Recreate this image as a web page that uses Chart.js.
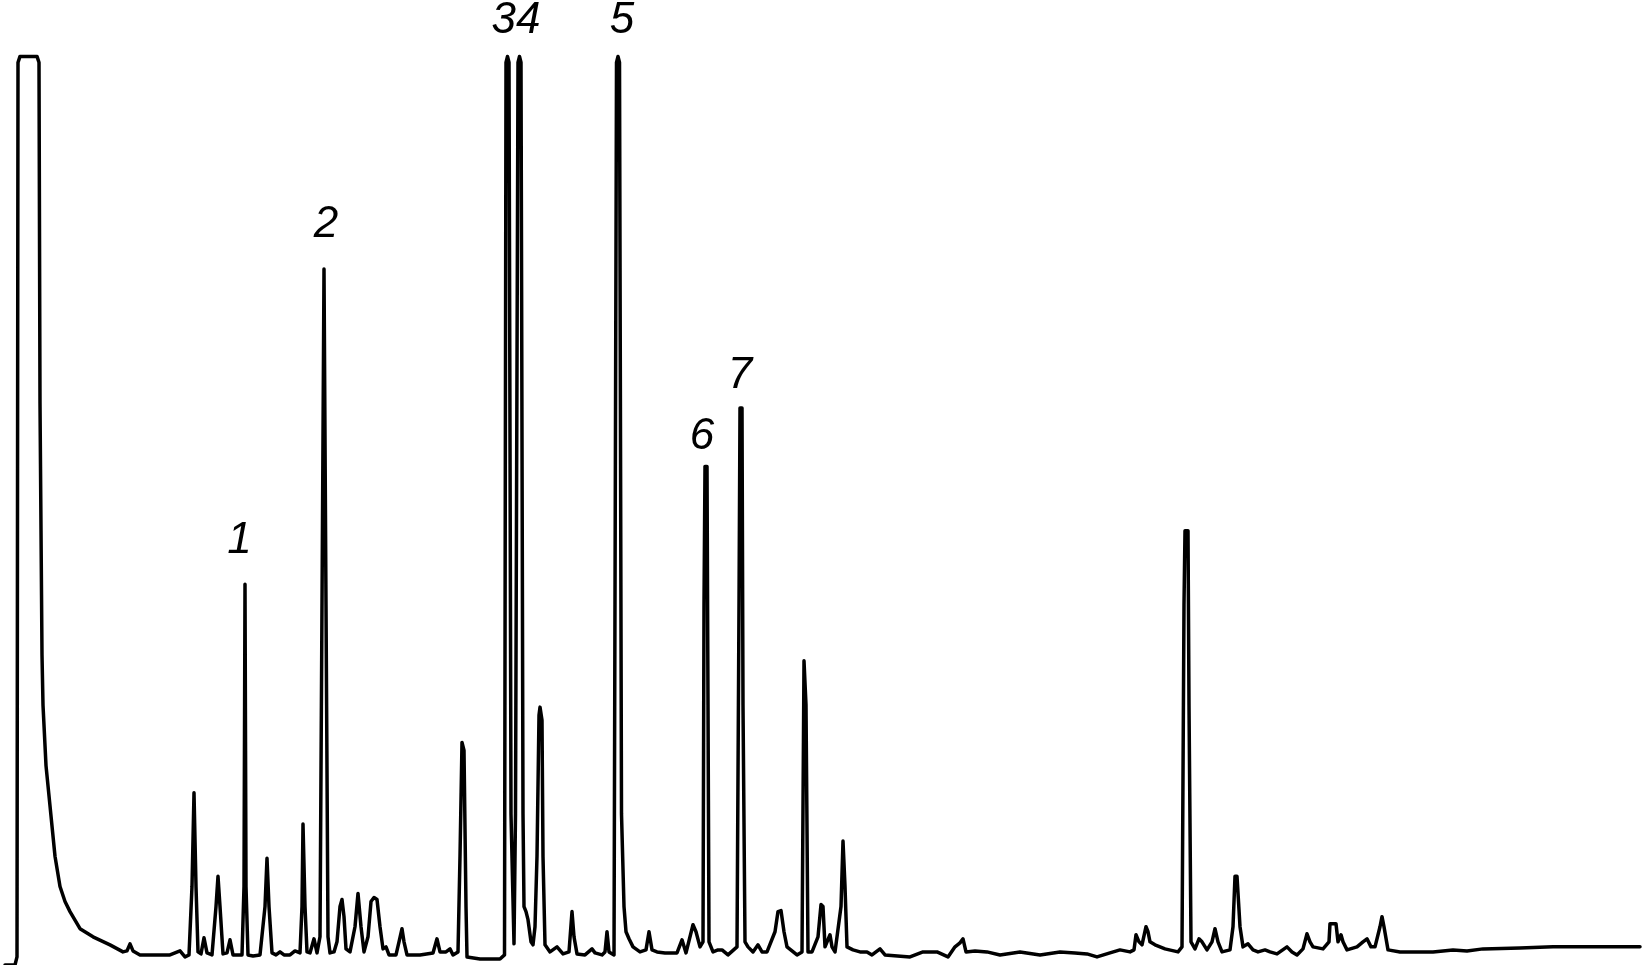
<!DOCTYPE html>
<html>
<head>
<meta charset="utf-8">
<script src="https://cdn.jsdelivr.net/npm/chart.js@4/dist/chart.umd.min.js"></script>
<style>
html,body{margin:0;padding:0;background:#fff;}
canvas{display:block;}
</style>
</head>
<body>
<canvas id="c" width="1646" height="965"></canvas>
<script>
// Retention time (arbitrary units)
const rt = [0.5,1.5,1.7,1.8,2.0,3.7,3.9,4.0,4.2,4.3,4.6,5.0,5.5,6.0,6.5,7.0,8.0,9.3,11.0,12.3,12.7,13.0,13.3,14.0,17.0,17.5,18.0,18.5,18.9,19.2,19.4,19.6,19.8,20.1,20.4,20.7,21.2,21.6,21.8,22.0,22.3,22.7,23.0,23.3,24.2,24.4,24.5,24.6,24.8,25.3,26.0,26.5,26.7,26.9,27.2,27.6,28.0,28.4,29.0,29.5,30.0,30.2,30.3,30.5,30.7,31.0,31.4,31.7,32.0,32.2,32.4,32.6,32.8,33.0,33.4,33.7,34.0,34.2,34.4,34.6,35.0,35.5,35.8,36.1,36.4,36.8,37.1,37.4,37.7,38.0,38.3,38.6,38.9,39.6,39.9,40.2,40.4,40.7,42.0,43.3,43.7,44.0,44.6,45.0,45.3,45.8,46.0,46.2,46.4,46.6,46.7,48.0,50.0,50.45,50.6,50.75,50.9,51.1,51.4,51.55,51.8,51.95,52.1,52.3,52.4,52.6,52.8,53.1,53.3,53.5,53.7,53.9,54.0,54.2,54.3,54.5,55.0,55.7,56.3,56.9,57.2,57.4,57.7,58.5,59.2,59.5,60.2,60.5,60.7,60.9,61.4,61.65,61.8,61.95,62.15,62.4,62.6,62.9,63.3,64.0,64.6,64.9,65.2,65.7,66.5,67.7,68.2,68.6,69.0,69.3,69.6,70.0,70.3,70.4,70.5,70.7,70.8,70.9,71.3,71.8,72.2,72.8,73.7,73.9,74.0,74.2,74.3,74.5,74.8,75.3,75.8,76.2,76.7,77.5,77.8,78.1,78.4,78.7,79.7,80.2,80.4,80.6,80.8,81.2,81.8,82.1,82.3,82.5,83.0,83.2,83.5,84.1,84.3,84.5,84.7,85.3,86.0,86.7,87.2,88.0,88.5,91.0,92.3,93.7,94.8,95.5,96.0,96.3,96.6,97.5,98.7,100.0,102.0,104.0,106.0,107.5,108.7,109.7,111.0,112.0,113.0,113.4,113.6,113.9,114.2,114.6,114.8,115.0,115.5,116.5,117.8,118.2,118.4,118.5,118.8,118.9,119.1,119.5,119.9,120.2,120.7,121.2,121.5,121.8,122.2,123.0,123.3,123.5,123.7,124.0,124.3,124.8,125.3,125.8,126.5,127.0,127.7,128.7,129.2,129.7,130.3,130.7,131.0,131.3,132.3,132.9,133.0,133.6,133.8,134.1,134.3,134.7,135.7,136.3,136.7,137.1,137.5,138.0,138.2,138.4,138.8,140.0,143.3,145.3,146.7,148.3,152.0,155.3,164.0];
// Detector signal (arbitrary units)
const signal = [0,0,8,896,902,902,896,558,308,258,198,158,108,78,63,53,36,28,20,13,14,21,14,10,10,12,14,8,10,78,171,78,13,11,27,12,10,58,88,58,11,12,25,10,10,78,378,78,10,9,10,58,106,58,12,10,13,10,10,14,12,58,140,58,13,12,26,12,28,358,691,358,28,12,13,23,58,65,48,16,13,38,71,38,13,28,63,67,65,38,16,18,10,10,23,36,23,10,10,12,26,13,13,16,10,13,108,221,213,58,8,6,6,10,896,902,896,150,21,150,896,902,896,150,58,53,45,23,20,38,108,248,256,243,108,20,13,18,11,13,53,28,11,10,16,12,10,13,33,13,10,896,902,896,150,58,33,26,18,13,15,33,15,13,12,12,25,12,28,40,33,18,23,358,495,495,258,23,13,15,15,10,18,358,553,553,258,23,18,13,20,13,13,33,53,54,33,18,10,13,302,258,13,13,28,60,58,18,30,18,13,58,123,78,18,15,13,13,10,16,10,8,13,13,8,18,22,26,13,14,13,10,13,10,13,12,11,8,12,15,13,15,30,23,20,38,33,23,20,16,13,18,358,431,431,258,23,16,26,23,15,23,36,23,13,15,38,88,88,38,18,21,15,13,15,13,11,18,13,10,16,31,23,18,16,23,41,41,23,30,23,15,18,23,26,18,18,38,48,38,15,13,13,15,14,16,17,18,18];
// Peak labels
const peakLabels = ["1","2","34","5","6","7"];
const labelRt = [23.95,32.6,51.6,62.2,70.2,74.0];
const labelSignal = [421,735,937,937,524,585];

const points = rt.map((t,i)=>({x:t,y:signal[i]}));

const labelPlugin = {
  id:'peakLabels',
  afterDatasetsDraw(chart){
    const {ctx, scales:{x,y}} = chart;
    ctx.save();
    ctx.fillStyle = '#000';
    ctx.font = 'italic 44px "Liberation Sans", Arial, sans-serif';
    ctx.textAlign = 'center';
    ctx.textBaseline = 'middle';
    peakLabels.forEach((lab,i)=>{
      ctx.fillText(lab, x.getPixelForValue(labelRt[i]), y.getPixelForValue(labelSignal[i]));
    });
    ctx.restore();
  }
};

new Chart(document.getElementById('c'), {
  type:'line',
  data:{datasets:[{
    data:points,
    borderColor:'#000',
    borderWidth:3.5,
    pointRadius:0,
    tension:0,
    borderJoinStyle:'round',
    borderCapStyle:'round',
    fill:false
  }]},
  options:{
    responsive:false,
    animation:false,
    layout:{padding:0},
    plugins:{legend:{display:false},tooltip:{enabled:false}},
    scales:{
      x:{type:'linear',min:0,max:164.6,display:false},
      y:{type:'linear',min:0,max:958,display:false}
    }
  },
  plugins:[labelPlugin]
});
</script>
</body>
</html>
